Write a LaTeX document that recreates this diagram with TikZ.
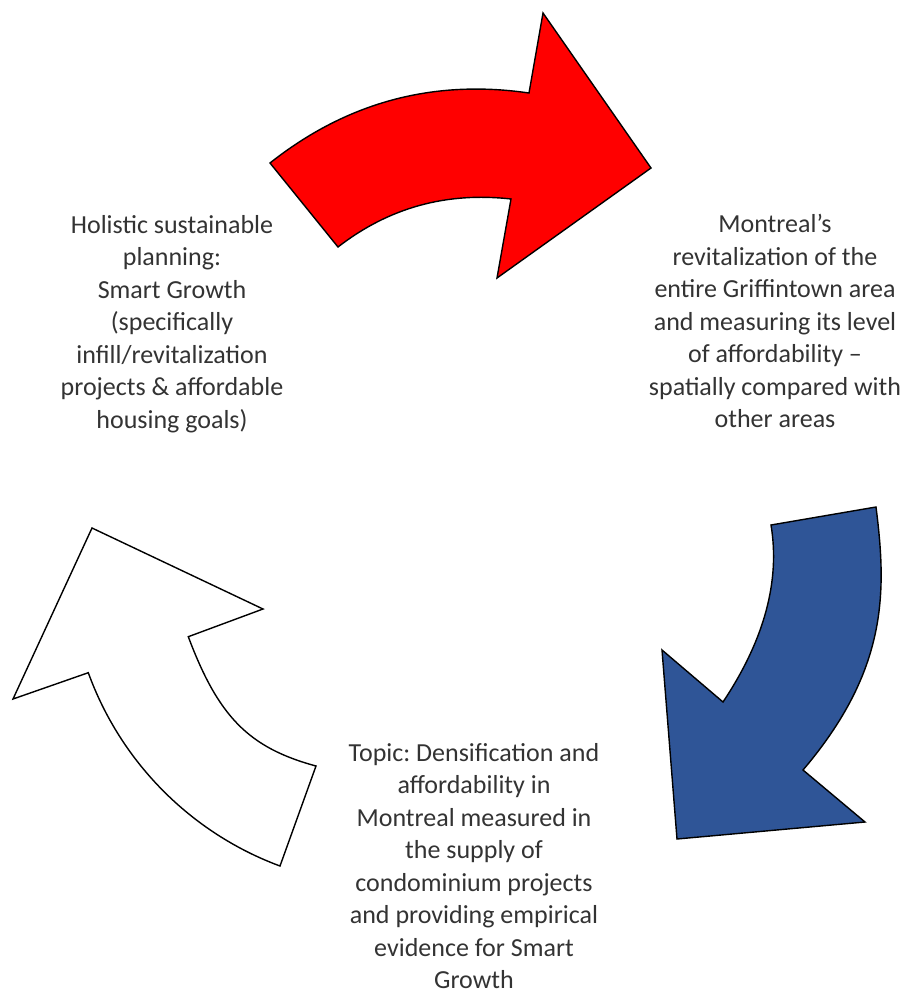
\documentclass[tikz,border=0pt]{standalone}
\usepackage{fontspec}
\setmainfont{Carlito}
\frenchspacing
\definecolor{bluefill}{HTML}{2F5597}
\tikzset{
  arrowshape/.style={draw=black, line width=1.4pt, line join=miter},
  bodytext/.style={font=\fontsize{26}{32.5}\selectfont, align=center, inner sep=0pt, text=black!80}
}
\begin{document}
\begin{tikzpicture}[x=1pt,y=-1pt]
\useasboundingbox (0,0) rectangle (905,994);
% red arrow (top)
\draw[arrowshape, fill=red] (270,163) .. controls (346.7,102.3) and (433,79) .. (529,93)
  -- (543,13) -- (651,168) -- (497,278) -- (511,199)
  .. controls (446.3,191.7) and (388.7,207.7) .. (338,247) -- cycle;
% blue arrow (right)
\draw[arrowshape, fill=bluefill] (803,770) .. controls (888,670) and (886.8,592) .. (876,507)
  -- (771,525) .. controls (780.3,581) and (764.3,640) .. (723,702)
  -- (662,650) -- (677,839) -- (865,822) -- cycle;
% white arrow (left)
\draw[arrowshape, fill=white] (92,528) -- (263,609) -- (188.3,636.7)
  .. controls (218.2,716.3) and (248.4,747.7) .. (316,766)
  -- (280,866) .. controls (190.9,833) and (120.6,762) .. (88.3,672.7)
  -- (13,699) -- cycle;
% texts
\node[bodytext] (plan) at (172,324) {Holistic sustainable\\planning:\\Smart Growth\\(specifically\\infill/revitalization\\projects \& affordable\\housing goals)};
\node[bodytext] (mtl) at (775,321) {Montreal’s\\revitalization of the\\entire Griffintown area\\and measuring its level\\of affordability –\\spatially compared with\\other areas};
\node[bodytext] (topic) at (474,866) {Topic: Densification and\\affordability in\\Montreal measured in\\the supply of\\condominium projects\\and providing empirical\\evidence for Smart\\Growth};
\end{tikzpicture}
\end{document}
